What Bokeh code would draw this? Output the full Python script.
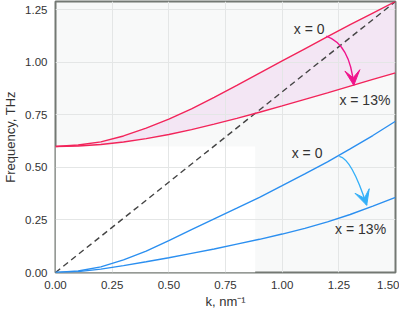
import numpy as np
from bokeh.plotting import figure
from bokeh.models import (Range1d, Label, Arrow, VeeHead, BoxAnnotation, FixedTicker,
                          CustomJSTickFormatter)
from bokeh.embed import file_html
from bokeh.resources import INLINE

# ---- data ----
k = [0.0, 0.1, 0.2, 0.3, 0.4, 0.5, 0.6, 0.7, 0.8, 0.9, 1.0, 1.1, 1.2, 1.3, 1.4, 1.5]
red_x0 = [0.600, 0.607, 0.622, 0.650, 0.687, 0.730, 0.779, 0.834, 0.891, 0.949,
          1.007, 1.065, 1.123, 1.180, 1.235, 1.290]
red_x13 = [0.600, 0.602, 0.609, 0.621, 0.637, 0.657, 0.680, 0.706, 0.734, 0.763,
           0.793, 0.824, 0.855, 0.887, 0.919, 0.950]
blue_x0 = [0.0, 0.007, 0.027, 0.060, 0.102, 0.152, 0.204, 0.255, 0.306, 0.358,
           0.413, 0.469, 0.527, 0.588, 0.652, 0.720]
blue_x13 = [0.0, 0.004, 0.016, 0.033, 0.051, 0.070, 0.091, 0.112, 0.135, 0.158,
            0.183, 0.210, 0.241, 0.276, 0.316, 0.358]
light_k = [0.0, 1.5]
light_f = [0.0, 1.29]

ticks = [0.0, 0.25, 0.5, 0.75, 1.0, 1.25, 1.5]
cross_k = 0.881   # where the light line meets the lower red curve

# annotation geometry (arrow start, control, end) and labels
red_arrow = dict(x0=1.195, y0=1.125, cx=1.299, cy=1.085, x1=1.316, y1=0.891)
blue_arrow = dict(x0=1.252, y0=0.553, cx=1.307, cy=0.541, x1=1.373, y1=0.320)
labels = [("x = 0", 1.119, 1.159), ("x = 13%", 1.365, 0.822),
          ("x = 0", 1.110, 0.569), ("x = 13%", 1.346, 0.209)]

RED = "#f2245a"
BLUE = "#2b8ff0"
FONT = "Liberation Sans"
TXT = "#333333"

p = figure(width=399, height=311, output_backend="svg", toolbar_location=None,
           x_range=Range1d(0, 1.5), y_range=Range1d(0, 1.29),
           min_border_top=1, min_border_right=4, min_border_bottom=0, min_border_left=10)
p.background_fill_color = "#f8f9f9"
p.border_fill_color = "white"
p.outline_line_color = "#737873"
p.outline_line_width = 2

# white region
p.add_layout(BoxAnnotation(left=0, right=cross_k, bottom=0, top=0.6,
                           fill_color="white", fill_alpha=1.0, line_alpha=0, level="image"))
# pink band
p.varea(x=k, y1=red_x13, y2=red_x0, fill_color="#f0d8f0", fill_alpha=0.6, level="image")

for g in (p.xgrid, p.ygrid):
    g.grid_line_color = "#e4e6e6"
    g.grid_line_width = 1
    g.ticker = FixedTicker(ticks=ticks)

fmt = CustomJSTickFormatter(code="return tick.toFixed(2);")
for ax in (p.xaxis, p.yaxis):
    ax.ticker = FixedTicker(ticks=ticks)
    ax.formatter = fmt
    ax.axis_line_color = None
    ax.major_tick_line_color = None
    ax.minor_tick_line_color = None
    ax.major_tick_out = 0
    ax.major_label_text_font = FONT
    ax.major_label_text_font_size = "11.5px"
    ax.major_label_text_color = TXT
    ax.axis_label_text_font = FONT
    ax.axis_label_text_font_size = "13px"
    ax.axis_label_text_font_style = "normal"
    ax.axis_label_text_color = TXT
p.xaxis.major_label_standoff = 8
p.yaxis.major_label_standoff = 8
p.xaxis.axis_label = "k, nm\u207b\u00b9"
p.xaxis.axis_label_standoff = 2
p.yaxis.axis_label = "Frequency, THz"
p.yaxis.axis_label_standoff = 4

# light line
p.line(light_k, light_f, line_color="#444444", line_width=1.4, line_dash="6 4")
# curves
p.line(k, red_x0, line_color=RED, line_width=1.4)
p.line(k, red_x13, line_color=RED, line_width=1.4)
p.line(k, blue_x0, line_color=BLUE, line_width=1.4)
p.line(k, blue_x13, line_color=BLUE, line_width=1.4)

def curved_arrow(a, color):
    p.quadratic(x0=[a["x0"]], y0=[a["y0"]], x1=[a["x1"]], y1=[a["y1"]],
                cx=[a["cx"]], cy=[a["cy"]], line_color=color, line_width=1.4)
    dx, dy = a["x1"] - a["cx"], a["y1"] - a["cy"]
    s = 0.05
    p.add_layout(Arrow(x_start=a["x1"] - s * dx, y_start=a["y1"] - s * dy,
                       x_end=a["x1"], y_end=a["y1"], line_alpha=0,
                       end=VeeHead(size=15, fill_color=color, line_color=color, line_width=1)))

curved_arrow(red_arrow, "#f0148c")
curved_arrow(blue_arrow, "#35b0f8")

for t, x, y in labels:
    p.add_layout(Label(x=x, y=y, text=t, text_font=FONT, text_font_size="14px",
                       text_color=TXT, text_align="center", text_baseline="middle"))

open("out.html", "w").write(file_html(p, INLINE))
